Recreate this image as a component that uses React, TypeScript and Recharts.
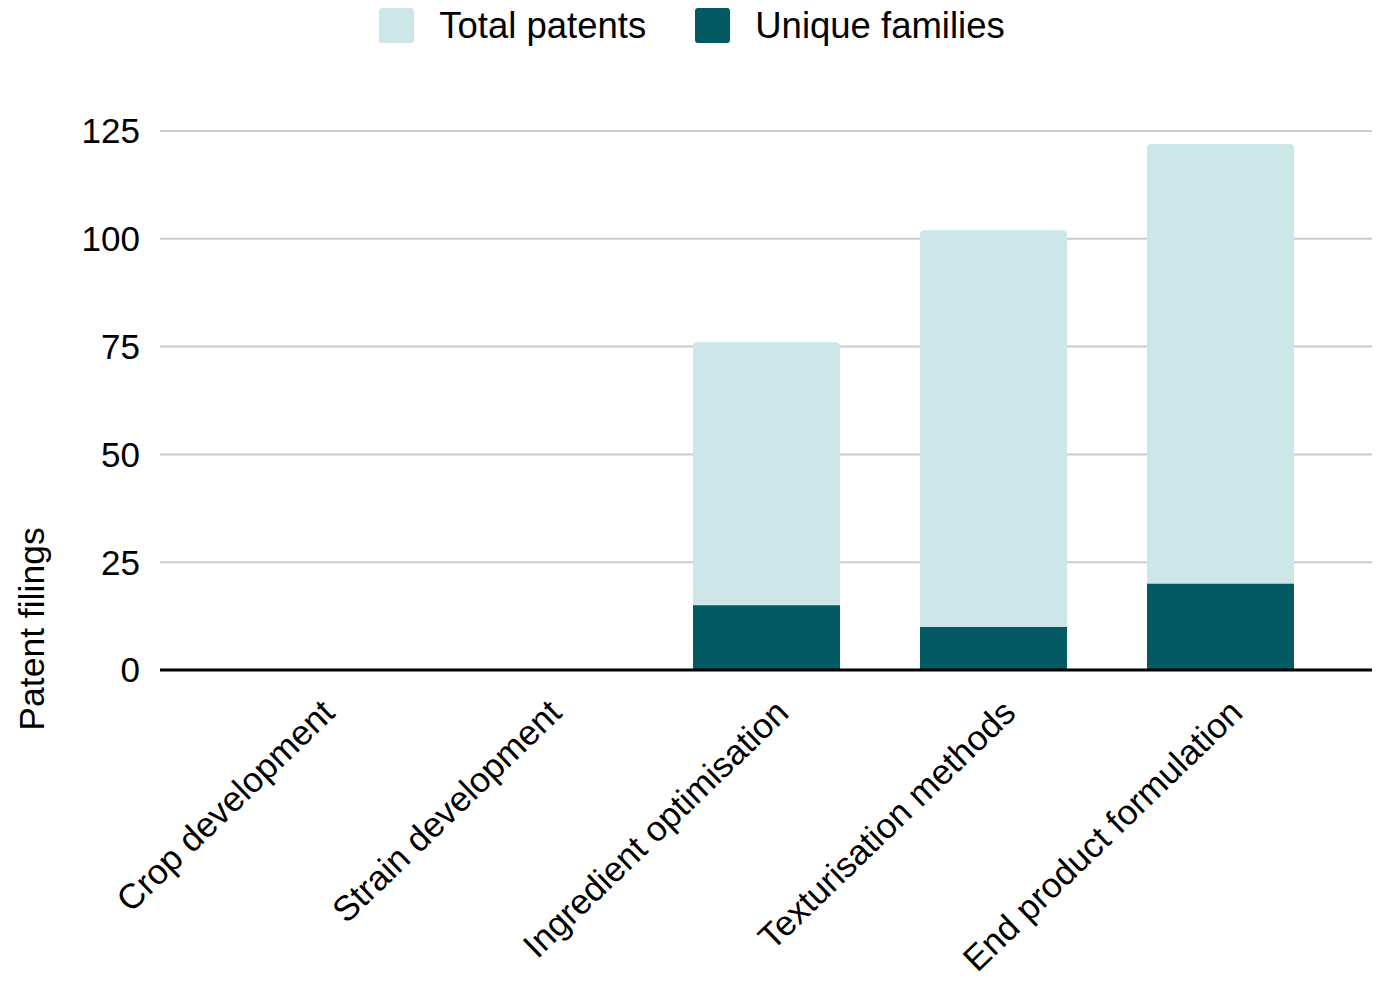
import React from 'react';
import { BarChart, Bar, XAxis, YAxis, CartesianGrid } from 'recharts';

const categories = [
  'Crop development',
  'Strain development',
  'Ingredient optimisation',
  'Texturisation methods',
  'End product formulation',
];
const totalPatents = [0, 0, 76, 102, 122];
const uniqueFamilies = [0, 0, 15, 10, 20];
const yTicks = [0, 25, 50, 75, 100, 125];

const colors = {
  total: '#cde6e8',
  unique: '#035a63',
};

const FONT = '"Liberation Sans", Arial, Helvetica, sans-serif';

const chartData = categories.map((name, i) => ({
  name,
  total: totalPatents[i],
  unique: uniqueFamilies[i],
}));

const legendItems = [
  { label: 'Total patents', color: colors.total },
  { label: 'Unique families', color: colors.unique },
];

// Rotated category labels
const CategoryTick = ({ x, y, payload }: any) => (
  <text
    x={x + 24}
    y={y + 37}
    transform={`rotate(-44, ${x + 24}, ${y + 37})`}
    textAnchor="end"
    fill="#000"
    fontSize={35}
    fontFamily={FONT}
  >
    {payload.value}
  </text>
);

const YTitle = () => (
  <text
    x={44}
    y={629}
    transform="rotate(-90, 44, 629)"
    textAnchor="middle"
    fill="#000"
    fontSize={35.5}
    fontFamily={FONT}
  >
    Patent filings
  </text>
);

export default function App() {
  return (
    <div style={{ position: 'relative', width: 1384, height: 981, background: '#fff', fontFamily: FONT }}>
      <style>{`body{margin:0}`}</style>
      <div
        style={{
          position: 'absolute',
          top: 8,
          left: 0,
          width: 1384,
          display: 'flex',
          justifyContent: 'center',
          gap: 49,
        }}
      >
        {legendItems.map((item) => (
          <div key={item.label} style={{ display: 'flex', alignItems: 'center', gap: 25, height: 35 }}>
            <div style={{ width: 35, height: 35, borderRadius: 3, backgroundColor: item.color }} />
            <span style={{ fontSize: 36.5, color: '#000', lineHeight: '35px' }}>{item.label}</span>
          </div>
        ))}
      </div>
      <BarChart
        width={1384}
        height={981}
        data={chartData}
        margin={{ top: 131, right: 12, bottom: 0, left: 0 }}
        barSize={147}
        barGap={-147}
      >
        <CartesianGrid vertical={false} stroke="#cccccc" strokeWidth={2} />
        <XAxis
          dataKey="name"
          interval={0}
          height={311}
          padding={{ left: 39, right: 38 }}
          axisLine={{ stroke: '#000', strokeWidth: 3 }}
          tickLine={false}
          tick={<CategoryTick />}
        />
        <YAxis
          width={160}
          domain={[0, 125]}
          ticks={yTicks}
          axisLine={false}
          tickLine={false}
          tickSize={0}
          tickMargin={20}
          tick={{ fill: '#000', fontSize: 35, fontFamily: FONT }}
          label={<YTitle />}
        />
        <Bar dataKey="total" name="Total patents" fill={colors.total} radius={[4, 4, 0, 0]} isAnimationActive={false} />
        <Bar dataKey="unique" name="Unique families" fill={colors.unique} isAnimationActive={false} />
      </BarChart>
    </div>
  );
}
